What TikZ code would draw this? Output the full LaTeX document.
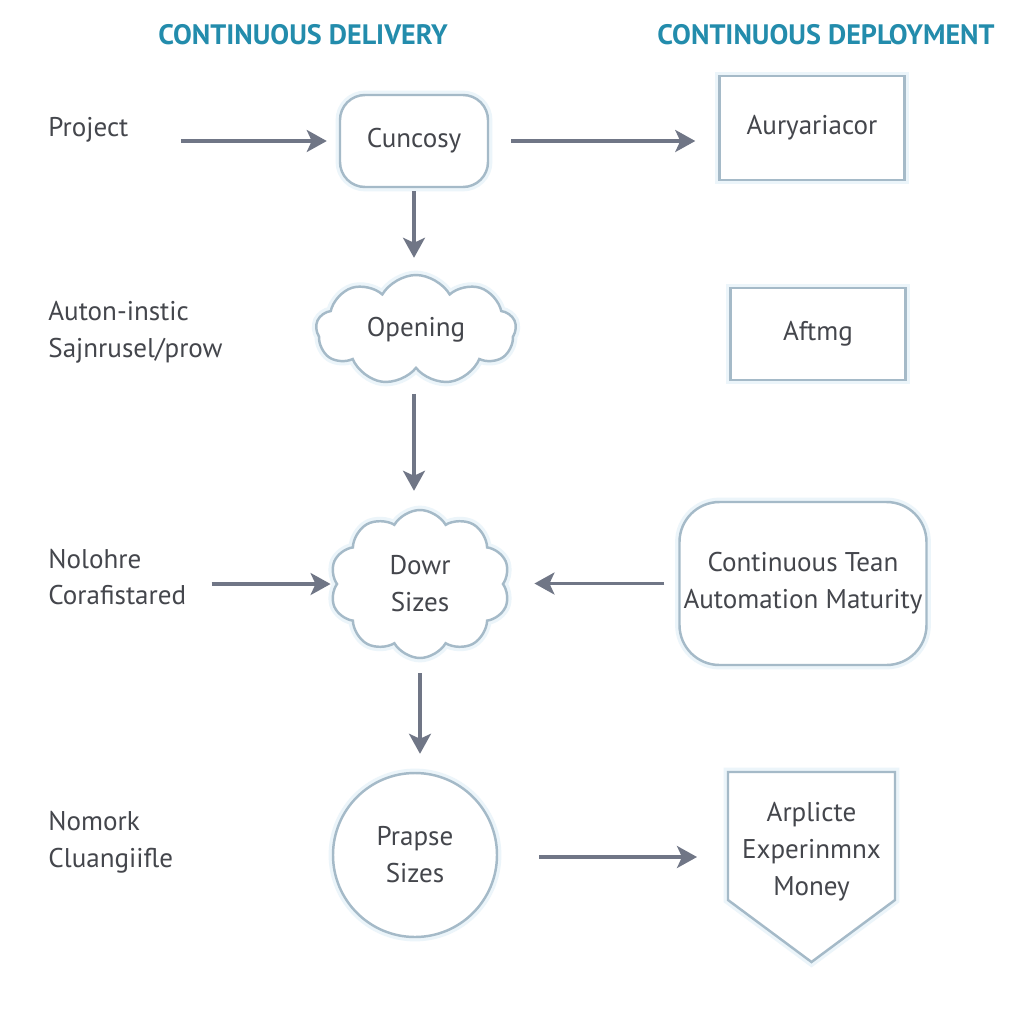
\documentclass[tikz,border=0pt]{standalone}
\usepackage{fontspec}
\setmainfont{PT Sans}
\usetikzlibrary{arrows.meta,shapes.symbols}
\definecolor{titleblue}{RGB}{35,140,172}
\definecolor{boxline}{RGB}{165,186,200}
\definecolor{boxglow}{RGB}{236,245,250}
\definecolor{arrowgray}{RGB}{112,118,134}
\definecolor{textgray}{RGB}{68,70,76}
\begin{document}
\begin{tikzpicture}[
    every node/.style={text=textgray, font=\fontsize{7.7}{10.5}\selectfont},
    title/.style={text=titleblue, font=\bfseries\fontsize{8}{9}\selectfont},
    sidelabel/.style={anchor=west, align=left},
    box/.style={draw=boxline, line width=0.7pt, fill=white, align=center,
        inner sep=1pt, preaction={draw=boxglow, line width=2.5pt}},
    arr/.style={draw=arrowgray, line width=0.9pt,
        -{Stealth[length=2mm,width=2.2mm,inset=0.5mm]}}
]
\useasboundingbox[fill=white] (0,0) rectangle (10.24,-10.24);

% headers
\node[title] (cdel) at (3.03,-0.35) {CONTINUOUS DELIVERY};
\node[title] (cdep) at (8.26,-0.35) {CONTINUOUS DEPLOYMENT};

% left column
\node[sidelabel] (project) at (0.36,-1.30) {Project};
\node[sidelabel] (auton) at (0.36,-3.32) {Auton-instic\\Sajnrusel/prow};
\node[sidelabel] (nolohre) at (0.36,-5.77) {Nolohre\\Corafistared};
\node[sidelabel] (nomork) at (0.36,-8.42) {Nomork\\Cluangiifle};

% middle column
\node[box, rounded corners=2.5mm, minimum width=1.48cm, minimum height=0.92cm]
    (cuncosy) at (4.14,-1.41) {Cuncosy};
\node[box, cloud, cloud puffs=9, cloud puff arc=120, cloud ignores aspect,
    minimum width=2.0cm, minimum height=1.1cm] (opening) at (4.16,-3.30) {Opening};
\node[box, cloud, cloud puffs=10, cloud puff arc=120, cloud ignores aspect,
    minimum width=1.8cm, minimum height=1.48cm] (dowr) at (4.20,-5.84) {Dowr\\Sizes};
\node[box, circle, minimum size=1.64cm] (prapse) at (4.15,-8.55) {Prapse\\Sizes};

% right column
\node[box, minimum width=1.85cm, minimum height=1.04cm] (aury) at (8.12,-1.28) {Auryariacor};
\node[box, minimum width=1.75cm, minimum height=0.92cm] (aftmg) at (8.18,-3.34) {Aftmg};
\node[box, rounded corners=4mm, minimum width=2.47cm, minimum height=1.63cm]
    (team) at (8.03,-5.835) {Continuous Tean\\Automation Maturity};
\coordinate (pentnw) at (7.28,-7.72);
\coordinate (pentne) at (8.95,-7.72);
\coordinate (pentse) at (8.95,-9.00);
\coordinate (penttip) at (8.115,-9.62);
\coordinate (pentsw) at (7.28,-9.00);
\coordinate (pentw) at (7.28,-8.57);
\draw[box] (pentnw) -- (pentne) -- (pentse) -- (penttip) -- (pentsw) -- cycle;
\node[align=center] (arplicte) at (8.115,-8.52) {Arplicte\\Experinmnx\\Money};

% arrows
\draw[arr, shorten <=4mm, shorten >=1.2mm] (project.east |- cuncosy.west) -- (cuncosy.west);
\draw[arr, shorten <=2.2mm, shorten >=2.3mm] (cuncosy.east) -- (cuncosy.east -| aury.west);
\draw[arr, shorten <=0.3mm, shorten >=1.6mm] (cuncosy.south) -- (cuncosy.south |- opening.north);
\draw[arr, shorten <=2.4mm, shorten >=1.8mm] (cuncosy.south |- opening.south) -- (cuncosy.south |- dowr.north);
\draw[arr, shorten <=1.3mm, shorten >=0.5mm] (nolohre.east |- dowr.west) -- (dowr.west);
\draw[arr, shorten <=1.4mm, shorten >=3mm] (team.west) -- (team.west -| dowr.east);
\draw[arr, shorten <=1.4mm, shorten >=1.8mm] (dowr.south) -- (dowr.south |- prapse.north);
\draw[arr, shorten <=4.1mm, shorten >=3.1mm] (prapse.east |- pentw) -- (pentw);
\end{tikzpicture}
\end{document}
